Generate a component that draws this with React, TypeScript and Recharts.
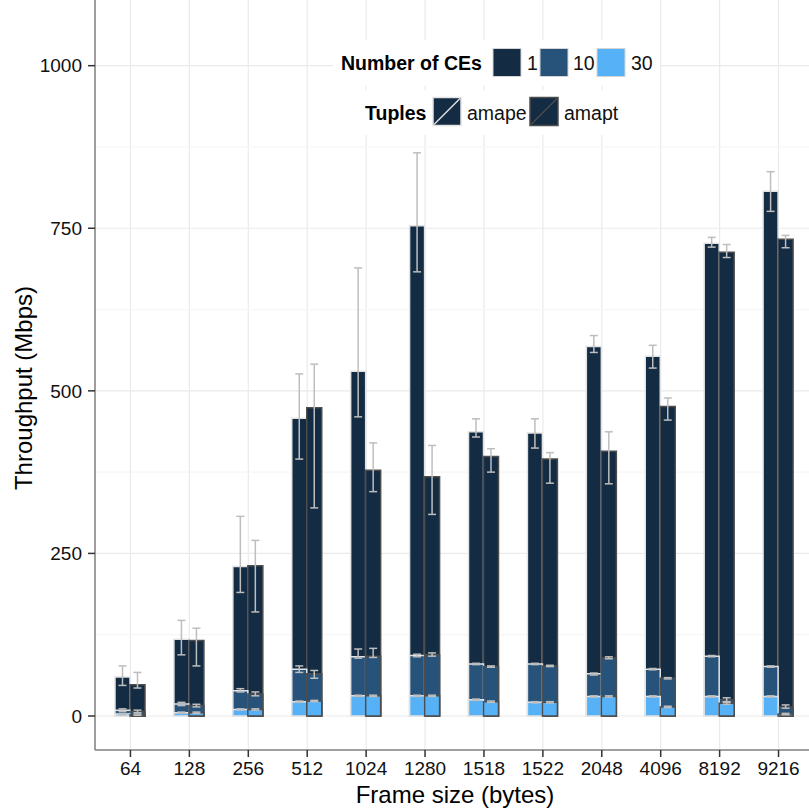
import { Bar, BarChart, CartesianGrid, ErrorBar, Label, Legend, XAxis, YAxis } from 'recharts';

const frameSizes = ['64', '128', '256', '512', '1024', '1280', '1518', '1522', '2048', '4096', '8192', '9216'];
const ceLevels = ['1', '10', '30'];
const tupleNames = ['amape', 'amapt'];
const yTicks = [0, 250, 500, 750, 1000];
const minorTicks = [125, 375, 625, 875];

// 1 CE
const ce1Amape = [60, 118, 230, 458, 530, 754, 437, 435, 568, 553, 727, 807];
const ce1AmapeLow = [47, 94, 190, 395, 460, 683, 429, 412, 559, 535, 721, 776];
const ce1AmapeHigh = [77, 147, 307, 526, 689, 866, 457, 457, 585, 570, 736, 837];
const ce1Amapt = [48, 116, 231, 474, 378, 368, 399, 395, 407, 476, 713, 733];
const ce1AmaptLow = [43, 77, 160, 320, 345, 310, 375, 358, 357, 455, 705, 720];
const ce1AmaptHigh = [67, 135, 270, 541, 420, 416, 411, 405, 437, 489, 725, 739];

// 10 CEs
const ce10Amape = [9, 18.5, 39, 72, 91, 93, 80, 80, 65, 72, 92, 76];
const ce10AmapeLow = [7, 16, 37, 67, 89, 91, 79, 79, 63, 71, 91, 75];
const ce10AmapeHigh = [11, 21, 42, 77, 103, 95, 81, 81, 66, 73, 93, 77];
const ce10Amapt = [7, 16, 34, 65, 92, 94, 76, 77, 89, 58, 25, 14];
const ce10AmaptLow = [5, 14, 31, 58, 90, 92, 75, 76, 88, 57, 22, 12];
const ce10AmaptHigh = [9, 18, 37, 70, 104, 97, 77, 78, 91, 59, 28, 17];

// 30 CEs
const ce30Amape = [3, 5, 10, 22, 31, 31, 25, 21, 30, 30, 30, 30];
const ce30AmapeLow = [2, 4, 9, 21, 30, 30, 24, 20, 29, 29, 29, 29];
const ce30AmapeHigh = [4, 6, 11, 23, 32, 32, 26, 22, 31, 31, 31, 31];
const ce30Amapt = [2, 5, 10, 23, 31, 31, 22, 21, 30, 14, 19.5, 3];
const ce30AmaptLow = [1, 4, 9, 22, 30, 30, 21, 20, 29, 13, 18, 2];
const ce30AmaptHigh = [3, 6, 11, 24, 32, 32, 23, 22, 31, 15, 21, 4];

const err = (v: number[], lo: number[], hi: number[], i: number) => [v[i] - lo[i], hi[i] - v[i]];

const data = frameSizes.map((size, i) => ({
  size,
  ape1: ce1Amape[i],
  ape1Err: err(ce1Amape, ce1AmapeLow, ce1AmapeHigh, i),
  apt1: ce1Amapt[i],
  apt1Err: err(ce1Amapt, ce1AmaptLow, ce1AmaptHigh, i),
  ape10: ce10Amape[i],
  ape10Err: err(ce10Amape, ce10AmapeLow, ce10AmapeHigh, i),
  apt10: ce10Amapt[i],
  apt10Err: err(ce10Amapt, ce10AmaptLow, ce10AmaptHigh, i),
  ape30: ce30Amape[i],
  ape30Err: err(ce30Amape, ce30AmapeLow, ce30AmapeHigh, i),
  apt30: ce30Amapt[i],
  apt30Err: err(ce30Amapt, ce30AmaptLow, ce30AmaptHigh, i),
}));

const FONT = '"Liberation Sans", Arial, sans-serif';
const ceColors = ['#132B43', '#27537B', '#56B1F7'];
const apeStroke = '#E3E3E3';
const aptStroke = '#4D4D4D';
const errColor = '#BEBEBE';
const xPad = { left: 6, right: 6 };

function LegendBoxes() {
  const ceX = [493, 540, 597];
  const ceLabelX = [527, 573, 631];
  const tupX = [433, 530];
  const tupLabelX = [467, 564];
  const tupStroke = [apeStroke, aptStroke];
  return (
    <svg width={809} height={140} style={{ fontFamily: FONT }}>
      <rect x={333} y={40} width={327} height={46} fill="#fff" />
      <text x={341} y={63} dominantBaseline="central" fontSize={19.5} fontWeight="bold" fill="#000">
        Number of CEs
      </text>
      {ceLevels.map((lv, i) => (
        <g key={lv}>
          <rect x={ceX[i]} y={48.5} width={28} height={28} fill={ceColors[i]} stroke="#D6D6D6" strokeWidth={1} />
          <text x={ceLabelX[i]} y={63} dominantBaseline="central" fontSize={19.5} fill="#111">
            {lv}
          </text>
        </g>
      ))}
      <rect x={357} y={90} width={270} height={45} fill="#fff" />
      <text x={365} y={113} dominantBaseline="central" fontSize={19.5} fontWeight="bold" fill="#000">
        Tuples
      </text>
      {tupleNames.map((t, i) => (
        <g key={t}>
          <rect x={tupX[i]} y={97.5} width={28} height={28} fill={ceColors[0]} stroke={tupStroke[i]} strokeWidth={1.5} />
          <line x1={tupX[i] + 1} y1={124.5} x2={tupX[i] + 27} y2={98.5} stroke={tupStroke[i]} strokeWidth={1.5} />
          <text x={tupLabelX[i]} y={113} dominantBaseline="central" fontSize={19.5} fill="#111">
            {t}
          </text>
        </g>
      ))}
    </svg>
  );
}

const yTitle = () => (
  <text x={32} y={388} transform="rotate(-90, 32, 388)" textAnchor="middle" fontSize={24} fill="#000" fontFamily={FONT}>
    Throughput (Mbps)
  </text>
);

const xTitle = () => (
  <text x={455} y={803} textAnchor="middle" fontSize={24} fill="#000" fontFamily={FONT}>
    Frame size (bytes)
  </text>
);

export default function App() {
  const tick = { fontSize: 19, fill: '#111', fontFamily: FONT };
  return (
    <div style={{ position: 'absolute', left: 0, top: 0, width: 809, height: 811, overflow: 'hidden', background: '#fff' }}>
      <BarChart
        width={814}
        height={811}
        data={data}
        margin={{ top: 0, right: 0, bottom: 0, left: 0 }}
        barGap={0}
        style={{ fontFamily: FONT }}
      >
        <CartesianGrid xAxisId="c1" horizontal={false} stroke="#EAEAEA" strokeWidth={1.2} />
        <CartesianGrid xAxisId="c1" vertical={false} horizontalValues={minorTicks} stroke="#F6F6F6" strokeWidth={1.2} />
        <CartesianGrid xAxisId="c1" vertical={false} horizontalValues={yTicks} stroke="#EAEAEA" strokeWidth={1.2} />
        <XAxis
          xAxisId="c1"
          dataKey="size"
          height={61}
          padding={xPad}
          tick={tick}
          tickSize={7}
          tickMargin={5}
          axisLine={{ stroke: '#808080', strokeWidth: 1.5 }}
          tickLine={{ stroke: '#333', strokeWidth: 1.5 }}
          interval={0}
        >
          <Label content={xTitle} />
        </XAxis>
        <XAxis xAxisId="c10" dataKey="size" hide padding={xPad} />
        <XAxis xAxisId="c30" dataKey="size" hide padding={xPad} />
        <YAxis
          width={95}
          domain={[-52.3, 1101]}
          ticks={yTicks}
          allowDataOverflow
          tick={tick}
          tickSize={7}
          tickMargin={6}
          axisLine={{ stroke: '#808080', strokeWidth: 1.5 }}
          tickLine={{ stroke: '#333', strokeWidth: 1.5 }}
        >
          <Label content={yTitle} />
        </YAxis>
        <Legend
          layout="vertical"
          align="center"
          verticalAlign="middle"
          wrapperStyle={{ left: 0, top: 0, width: 809, height: 140 }}
          content={() => <LegendBoxes />}
        />

        <Bar xAxisId="c1" dataKey="ape1" barSize={15} fill={ceColors[0]} stroke={apeStroke} strokeWidth={1.5} isAnimationActive={false}>
          <ErrorBar dataKey="ape1Err" width={4} stroke={errColor} strokeWidth={1.5} direction="y" />
        </Bar>
        <Bar xAxisId="c1" dataKey="apt1" barSize={15} fill={ceColors[0]} stroke={aptStroke} strokeWidth={1.5} isAnimationActive={false}>
          <ErrorBar dataKey="apt1Err" width={4} stroke={errColor} strokeWidth={1.5} direction="y" />
        </Bar>
        <Bar xAxisId="c10" dataKey="ape10" barSize={15} fill={ceColors[1]} stroke={apeStroke} strokeWidth={1.5} isAnimationActive={false}>
          <ErrorBar dataKey="ape10Err" width={4} stroke={errColor} strokeWidth={1.5} direction="y" />
        </Bar>
        <Bar xAxisId="c10" dataKey="apt10" barSize={15} fill={ceColors[1]} stroke={aptStroke} strokeWidth={1.5} isAnimationActive={false}>
          <ErrorBar dataKey="apt10Err" width={4} stroke={errColor} strokeWidth={1.5} direction="y" />
        </Bar>
        <Bar xAxisId="c30" dataKey="ape30" barSize={15} fill={ceColors[2]} stroke={apeStroke} strokeWidth={1.5} isAnimationActive={false}>
          <ErrorBar dataKey="ape30Err" width={4} stroke={errColor} strokeWidth={1.5} direction="y" />
        </Bar>
        <Bar xAxisId="c30" dataKey="apt30" barSize={15} fill={ceColors[2]} stroke={aptStroke} strokeWidth={1.5} isAnimationActive={false}>
          <ErrorBar dataKey="apt30Err" width={4} stroke={errColor} strokeWidth={1.5} direction="y" />
        </Bar>
      </BarChart>
    </div>
  );
}
